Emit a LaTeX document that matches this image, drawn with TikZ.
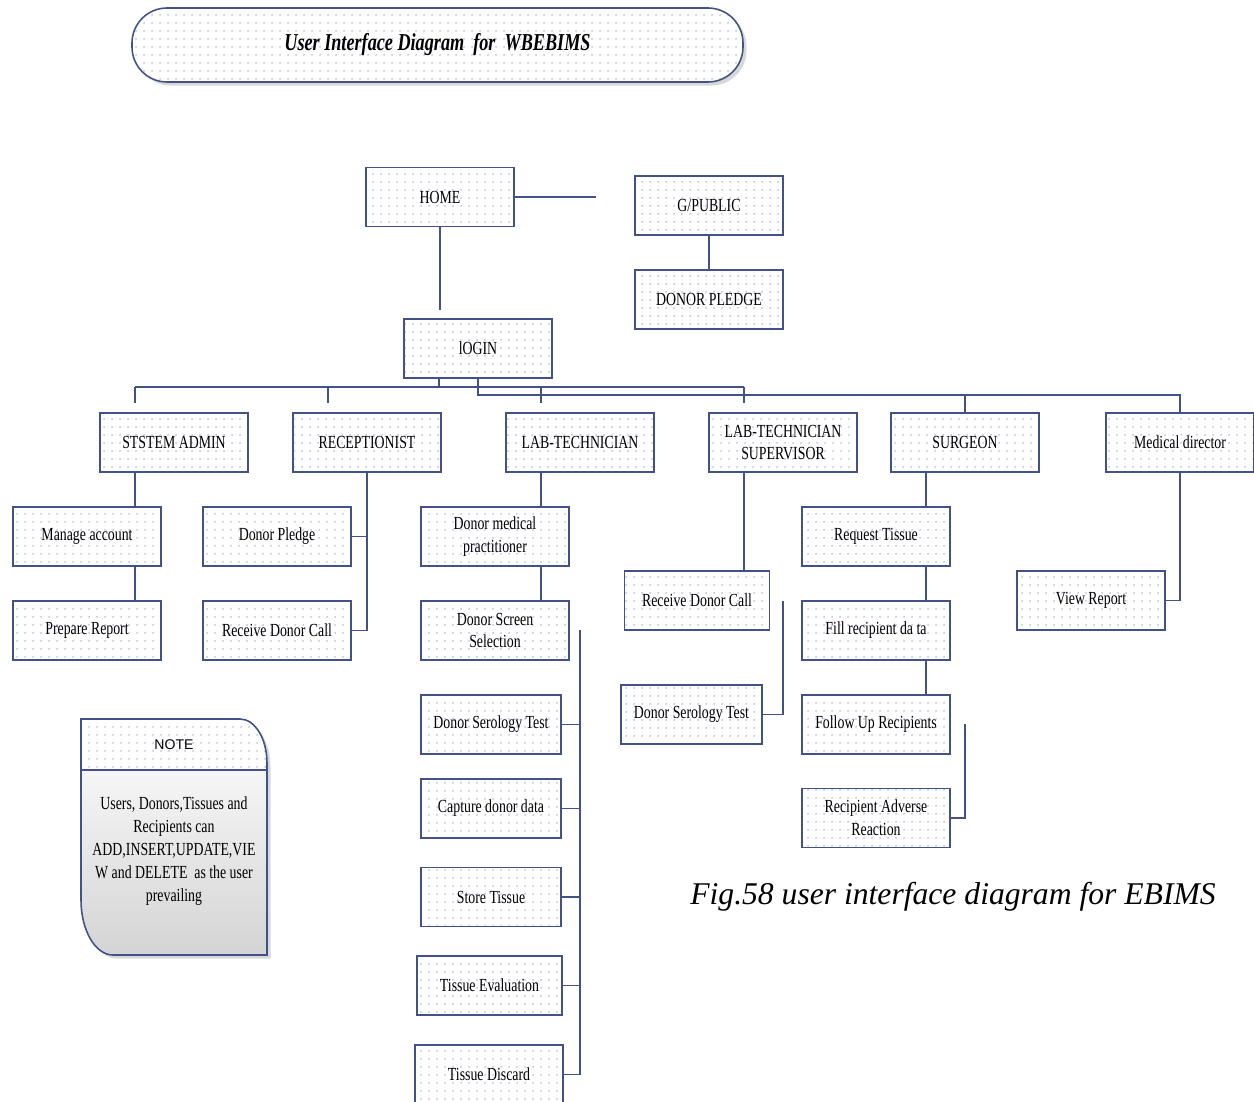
\documentclass[tikz,border=0pt]{standalone}
\usepackage{fontspec}
\setmainfont{Liberation Serif}
\newfontfamily\boxfont{Liberation Serif}[FakeStretch=0.75]
\newfontfamily\notefont{Liberation Sans}
\usepackage{tikz}
\usetikzlibrary{positioning,patterns.meta,shadows}
\definecolor{boxline}{RGB}{66,82,136}
\definecolor{dotblue}{RGB}{172,190,230}
\definecolor{notegray}{RGB}{212,212,212}

\tikzdeclarepattern{name=boxdots, type=uncolored,
  bounding box={(0,0) and (4.5pt,4.5pt)}, tile size={(4.5pt,4.5pt)},
  code={\pgfpathcircle{\pgfpoint{1.2pt}{1.2pt}}{0.55pt}\pgfusepath{fill}}}

\newcommand{\notepath}{(1.62,-14.38) -- (4.80,-14.38)
  arc[start angle=90, end angle=0, x radius=0.54, y radius=0.88] -- (5.34,-19.10)
  -- (2.26,-19.10) arc[start angle=270, end angle=180, x radius=0.64, y radius=1.10] -- cycle}

\begin{document}
\begin{tikzpicture}[
  blk/.style={draw=boxline, line width=0.9pt, preaction={fill=white},
    pattern=boxdots, pattern color=dotblue,
    minimum width=2.96cm, minimum height=1.18cm, align=center, inner sep=2pt,
    font=\boxfont\fontsize{10.5}{13}\selectfont},
  conn/.style={draw=boxline, line width=0.9pt}]
\useasboundingbox (0,0) rectangle (25.08,-22.02);

% ---- title ----
\node[drop shadow={shadow xshift=2pt, shadow yshift=-2pt, fill=gray!60},
  blk, rounded corners=0.7cm, minimum width=12.22cm, minimum height=1.48cm,
  font=\boxfont\fontsize{13.8}{16}\selectfont\bfseries\itshape] (title) at (8.75,-0.90)
  {User Interface Diagram\ \ for\ \ WBEBIMS};

% ---- top level ----
\node[blk] (home)    at (8.80,-3.94)  {HOME};
\node[blk] (gpub)    at (14.18,-4.11) {G/PUBLIC};
\node[blk] (dpledge) at (14.18,-5.99) {DONOR PLEDGE};
\node[blk] (login)   at (9.56,-6.97)  {lOGIN};

% ---- users ----
\node[blk] (sysadm)  at (3.48,-8.85)  {STSTEM ADMIN};
\node[blk] (recep)   at (7.34,-8.85)  {RECEPTIONIST};
\node[blk] (labtech) at (11.60,-8.85) {LAB-TECHNICIAN};
\node[blk] (labsup)  at (15.66,-8.85) {LAB-TECHNICIAN\\SUPERVISOR};
\node[blk] (surgeon) at (19.30,-8.85) {SURGEON};
\node[blk] (meddir)  at (23.60,-8.85) {Medical director};

% ---- tasks ----
\node[blk] (manage)   at (1.74,-10.73)  {Manage account};
\node[blk] (prepare)  at (1.74,-12.61)  {Prepare Report};
\node[blk] (pledge)   at (5.54,-10.73)  {Donor Pledge};
\node[blk] (rcall)    at (5.54,-12.61)  {\raisebox{-0.22cm}{Receive Donor Call}};
\node[blk] (medprac)  at (9.90,-10.73)  {Donor medical\\practitioner};
\node[blk] (screen)   at (9.90,-12.61)  {Donor Screen\\Selection};
\node[blk, minimum width=2.80cm] (serolab) at (9.82,-14.49) {Donor Serology Test};
\node[blk, minimum width=2.80cm] (capture) at (9.82,-16.17) {Capture donor data};
\node[blk, minimum width=2.80cm] (store)   at (9.82,-17.94) {Store Tissue};
\node[blk, minimum width=2.90cm] (evalu)   at (9.79,-19.71) {Tissue Evaluation};
\node[blk] (discard)  at (9.78,-21.49)  {Tissue Discard};
\node[blk, minimum width=2.90cm] (supcall) at (13.94,-12.01) {\raisebox{-0.22cm}{Receive Donor Call}};
\node[blk, minimum width=2.82cm] (serosup) at (13.83,-14.29) {Donor Serology Test};
\node[blk] (reqtis)   at (17.52,-10.73) {Request Tissue};
\node[blk] (fillrec)  at (17.52,-12.61) {Fill recipient da ta};
\node[blk] (followup) at (17.52,-14.49) {Follow Up Recipients};
\node[blk] (adverse)  at (17.52,-16.36) {Recipient Adverse\\Reaction};
\node[blk] (viewrep)  at (21.82,-12.01) {View Report};

% ---- free ends ----
\coordinate (homeR) at (11.92,-3.94);
\coordinate (homeD) at (8.80,-6.20);
\coordinate (busA)  at (8.78,-7.74);
\coordinate (busB)  at (9.56,-7.90);
\coordinate (dropSA)  at (2.70,-8.06);
\coordinate (dropRC)  at (6.56,-8.06);
\coordinate (dropLT)  at (10.82,-8.06);
\coordinate (dropSup) at (14.88,-8.06);
\coordinate (labTop)  at (11.60,-12.60);
\coordinate (supTop)  at (15.66,-12.02);
\coordinate (srgX)    at (18.52,-9.44);
\coordinate (advTop)  at (19.30,-14.48);

% ---- connectors ----
\draw[conn] (home.east) -- (homeR);
\draw[conn] (home.south) -- (homeD);
\draw[conn] (gpub.south) -- (dpledge.north);
\draw[conn] (login.south -| busA) -- (busA);
\draw[conn] (dropSA |- busA) -- (dropSup |- busA);
\draw[conn] (dropSA |- busA) -- (dropSA);
\draw[conn] (dropRC |- busA) -- (dropRC);
\draw[conn] (dropLT |- busA) -- (dropLT);
\draw[conn] (dropSup |- busA) -- (dropSup);
\draw[conn] (login.south) -- (busB) -| (meddir.north);
\draw[conn] (busB -| surgeon.north) -- (surgeon.north);

\draw[conn] (dropSA |- sysadm.south) -- (dropSA |- manage.north);
\draw[conn] (dropSA |- manage.south) -- (dropSA |- prepare.north);
\draw[conn] (recep.south) |- (rcall.east);
\draw[conn] (pledge.east) -- (pledge.east -| recep.south);
\draw[conn] (dropLT |- labtech.south) -- (dropLT |- medprac.north);
\draw[conn] (dropLT |- medprac.south) -- (dropLT |- screen.north);
\draw[conn] (labTop) |- (discard.east);
\draw[conn] (serolab.east) -- (serolab.east -| labTop);
\draw[conn] (capture.east) -- (capture.east -| labTop);
\draw[conn] (store.east) -- (store.east -| labTop);
\draw[conn] (evalu.east) -- (evalu.east -| labTop);
\draw[conn] (dropSup |- labsup.south) -- (dropSup |- supcall.north);
\draw[conn] (supTop) |- (serosup.east);
\draw[conn] (srgX |- surgeon.south) -- (srgX |- reqtis.north);
\draw[conn] (srgX |- reqtis.south) -- (srgX |- fillrec.north);
\draw[conn] (srgX |- fillrec.south) -- (srgX |- followup.north);
\draw[conn] (advTop) |- (adverse.east);
\draw[conn] (meddir.south) |- (viewrep.east);

% ---- note ----
\path[fill=white, drop shadow={shadow xshift=2pt, shadow yshift=-2pt, fill=gray!60}] \notepath;
\shade[top color=white, bottom color=notegray] \notepath;
\begin{scope}
  \clip \notepath;
  \fill[white] (1.62,-14.38) rectangle (5.34,-15.40);
  \fill[pattern=boxdots, pattern color=dotblue] (1.62,-14.38) rectangle (5.34,-15.40);
\end{scope}
\draw[conn] (1.62,-15.40) -- (5.34,-15.40);
\draw[conn] \notepath;
\node[font=\notefont\fontsize{8}{10}\selectfont] (notehead) at (3.48,-14.89) {NOTE};
\node[align=center, font=\boxfont\fontsize{10.5}{13}\selectfont] (notebody) at (3.48,-17.02)
  {Users, Donors,Tissues and\\ Recipients can\\ ADD,INSERT,UPDATE,VIE\\
   W and DELETE\ \ as the user\\ prevailing};

% ---- caption ----
\node[font=\fontsize{18}{22}\selectfont\itshape] (caption) at (19.06,-17.94)
  {Fig.58 user interface diagram for EBIMS};
\end{tikzpicture}
\end{document}
